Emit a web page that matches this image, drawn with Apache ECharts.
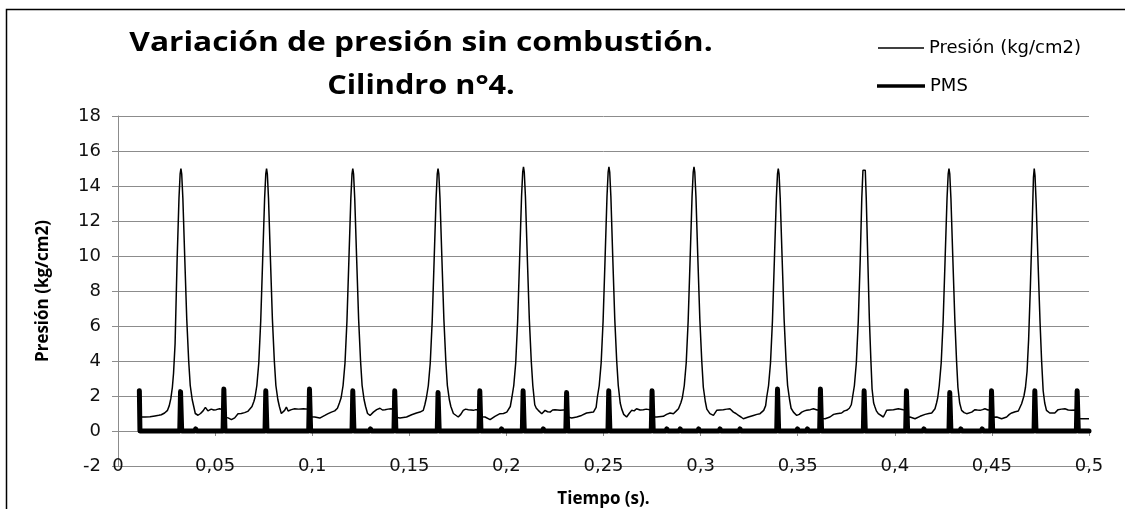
<!DOCTYPE html>
<html>
<head>
<meta charset="utf-8">
<script src="https://cdn.jsdelivr.net/npm/echarts@6.0.0/dist/echarts.min.js"></script>
<style>
  html, body { margin: 0; padding: 0; background: #fff; }
  #chart { width: 1125px; height: 509px; }
</style>
</head>
<body>
<div id="chart"></div>
<script>
// Tiempo (s) / presión (kg/cm2)
const presion = [
  [0.0115, 0.80], [0.0140, 0.80], [0.0165, 0.81], [0.0190, 0.86], [0.0210, 0.90], [0.0223, 0.93], [0.0240, 1.03], [0.0255, 1.18], [0.0264, 1.45], [0.0272, 1.85], [0.0280, 2.5], [0.0286, 3.3], [0.0294, 5.0], [0.0304, 9.6], [0.0314, 13.3], [0.0320, 14.7], [0.0324, 15.0], [0.0328, 14.7], [0.0334, 13.3], [0.0344, 9.8], [0.0354, 6.4], [0.0364, 4.0], [0.0372, 2.6], [0.0382, 1.8], [0.0390, 1.4],
  [0.0398, 1.0], [0.0412, 0.9], [0.0425, 1.0], [0.0438, 1.15], [0.0450, 1.35], [0.0463, 1.15], [0.0480, 1.25], [0.0493, 1.2], [0.0506, 1.22], [0.0523, 1.27], [0.0538, 1.22],
  [0.0548, 0.78], [0.0567, 0.75], [0.0584, 0.65], [0.0601, 0.75], [0.0618, 0.99], [0.0635, 1.0], [0.0652, 1.05], [0.0668, 1.12], [0.0678, 1.2], [0.0690, 1.4], [0.0700, 1.7],
  [0.0705, 1.9], [0.0715, 2.6], [0.0725, 3.9], [0.0735, 6.3], [0.0745, 9.8], [0.0755, 13.3], [0.0761, 14.7], [0.0765, 15.0], [0.0769, 14.7], [0.0775, 13.3], [0.0785, 9.8], [0.0795, 6.4], [0.0805, 4.0], [0.0813, 2.6], [0.0823, 1.8], [0.0831, 1.4],
  [0.0841, 1.0], [0.0849, 0.95], [0.0858, 1.18], [0.0867, 1.37], [0.0876, 1.14], [0.0884, 1.25], [0.0893, 1.22], [0.0910, 1.27], [0.0930, 1.25], [0.0955, 1.27], [0.0980, 1.25],
  [0.0992, 0.82], [0.1013, 0.80], [0.1039, 0.74], [0.1065, 0.89], [0.1082, 0.99], [0.1099, 1.08], [0.1116, 1.15], [0.1130, 1.3], [0.1140, 1.6],
  [0.1149, 1.9], [0.1159, 2.6], [0.1169, 3.9], [0.1179, 6.3], [0.1189, 9.8], [0.1199, 13.3], [0.1205, 14.7], [0.1209, 15.0], [0.1213, 14.7], [0.1219, 13.3], [0.1229, 9.8], [0.1239, 6.4], [0.1249, 4.0], [0.1257, 2.6], [0.1267, 1.8], [0.1275, 1.4],
  [0.1285, 1.0], [0.1298, 0.89], [0.1315, 1.08], [0.1332, 1.22], [0.1349, 1.3], [0.1362, 1.2], [0.1375, 1.22], [0.1390, 1.25], [0.1405, 1.27], [0.1420, 1.25],
  [0.1430, 0.78], [0.1452, 0.74], [0.1486, 0.80], [0.1512, 0.93], [0.1537, 1.03], [0.1555, 1.08], [0.1572, 1.18], [0.1580, 1.5],
  [0.1588, 1.9], [0.1598, 2.6], [0.1608, 3.9], [0.1618, 6.3], [0.1628, 9.8], [0.1638, 13.3], [0.1644, 14.7], [0.1648, 15.0], [0.1652, 14.7], [0.1658, 13.3], [0.1668, 9.8], [0.1678, 6.4], [0.1688, 4.0], [0.1696, 2.6], [0.1706, 1.8], [0.1714, 1.4],
  [0.1727, 1.0], [0.1752, 0.80], [0.1765, 0.95], [0.1778, 1.18], [0.1790, 1.25], [0.1804, 1.22], [0.1818, 1.2], [0.1830, 1.18], [0.1843, 1.22], [0.1858, 1.2],
  [0.1868, 0.82], [0.1890, 0.80], [0.1916, 0.65], [0.1941, 0.84], [0.1967, 0.99], [0.1985, 1.0], [0.2002, 1.08], [0.2020, 1.4],
  [0.2028, 1.9], [0.2038, 2.6], [0.2048, 3.9], [0.2058, 6.3], [0.2068, 9.8], [0.2078, 13.4], [0.2084, 14.8], [0.2088, 15.1], [0.2092, 14.8], [0.2098, 13.4], [0.2108, 9.8], [0.2118, 6.4], [0.2128, 4.0], [0.2136, 2.6], [0.2146, 1.5], [0.2154, 1.3],
  [0.2164, 1.18], [0.2182, 0.99], [0.2199, 1.18], [0.2212, 1.1], [0.2225, 1.08], [0.2238, 1.2], [0.2250, 1.22], [0.2276, 1.18], [0.2295, 1.2], [0.2306, 1.2],
  [0.2316, 0.8], [0.2336, 0.74], [0.2362, 0.80], [0.2387, 0.89], [0.2413, 1.03], [0.2448, 1.08], [0.2462, 1.35],
  [0.2468, 1.9], [0.2478, 2.6], [0.2488, 3.9], [0.2498, 6.3], [0.2508, 9.8], [0.2518, 13.4], [0.2524, 14.8], [0.2528, 15.1], [0.2532, 14.8], [0.2538, 13.4], [0.2548, 9.8], [0.2558, 6.4], [0.2568, 4.0], [0.2576, 2.6], [0.2586, 1.6], [0.2594, 1.25],
  [0.2604, 0.95], [0.2619, 0.80], [0.2632, 1.0], [0.2645, 1.18], [0.2658, 1.15], [0.2670, 1.27], [0.2688, 1.2], [0.2705, 1.22], [0.2720, 1.25], [0.2745, 1.2],
  [0.2755, 0.8], [0.2774, 0.80], [0.2808, 0.84], [0.2825, 0.95], [0.2843, 1.03], [0.2860, 0.99], [0.2875, 1.15], [0.2886, 1.27], [0.2898, 1.6],
  [0.2906, 1.9], [0.2916, 2.6], [0.2926, 3.9], [0.2936, 6.3], [0.2946, 9.8], [0.2956, 13.4], [0.2962, 14.8], [0.2966, 15.1], [0.2970, 14.8], [0.2976, 13.4], [0.2986, 9.8], [0.2996, 6.4], [0.3006, 4.0], [0.3014, 2.5], [0.3024, 1.7], [0.3032, 1.25],
  [0.3048, 0.99], [0.3066, 0.89], [0.3083, 1.18], [0.3100, 1.2], [0.3117, 1.22], [0.3135, 1.25], [0.3151, 1.27], [0.3169, 1.08], [0.3182, 1.0], [0.3195, 0.89], [0.3208, 0.8], [0.3220, 0.70], [0.3246, 0.80], [0.3272, 0.89], [0.3290, 0.95], [0.3306, 0.99], [0.3325, 1.18], [0.3335, 1.45],
  [0.3340, 1.9], [0.3350, 2.6], [0.3360, 3.9], [0.3370, 6.3], [0.3380, 9.8], [0.3390, 13.3], [0.3396, 14.7], [0.3400, 15.0], [0.3404, 14.7], [0.3410, 13.3], [0.3420, 9.8], [0.3430, 6.4], [0.3440, 4.0], [0.3448, 2.6], [0.3458, 1.8], [0.3466, 1.3],
  [0.3478, 1.08], [0.3495, 0.89], [0.3508, 0.95], [0.3521, 1.08], [0.3535, 1.15], [0.3546, 1.18], [0.3565, 1.22], [0.3581, 1.27], [0.3600, 1.2], [0.3613, 1.22],
  [0.3623, 0.72], [0.3641, 0.70], [0.3666, 0.80], [0.3685, 0.95], [0.3700, 0.99], [0.3726, 1.03], [0.3740, 1.15], [0.3752, 1.18], [0.3766, 1.3], [0.3776, 1.5],
  [0.3782, 1.9], [0.3792, 2.6], [0.3802, 3.9], [0.3812, 6.3], [0.3822, 9.8], [0.3830, 13.3], [0.3836, 14.9], [0.3839, 15.0], [0.3842, 14.85], [0.3845, 15.0], [0.3848, 14.9], [0.3853, 13.3], [0.3861, 9.8], [0.3869, 6.4], [0.3877, 4.0], [0.3883, 2.4], [0.3891, 1.6], [0.3898, 1.37],
  [0.3905, 1.15], [0.3915, 0.99], [0.3941, 0.80], [0.3950, 1.0], [0.3958, 1.18], [0.3975, 1.2], [0.3993, 1.22], [0.4018, 1.27], [0.4044, 1.22], [0.4056, 1.2],
  [0.4066, 0.78], [0.4078, 0.80], [0.4104, 0.70], [0.4130, 0.84], [0.4156, 0.95], [0.4175, 1.0], [0.4190, 1.03], [0.4207, 1.27], [0.4215, 1.6],
  [0.4221, 1.9], [0.4229, 2.6], [0.4239, 3.9], [0.4249, 6.3], [0.4259, 9.8], [0.4269, 13.3], [0.4275, 14.7], [0.4279, 15.0], [0.4283, 14.7], [0.4289, 13.3], [0.4299, 9.8], [0.4309, 6.4], [0.4318, 4.0], [0.4325, 2.5], [0.4334, 1.6],
  [0.4344, 1.18], [0.4357, 1.05], [0.4370, 0.99], [0.4396, 1.08], [0.4413, 1.22], [0.4425, 1.2], [0.4439, 1.18], [0.4452, 1.22], [0.4464, 1.27], [0.4480, 1.2], [0.4494, 1.22],
  [0.4504, 0.78], [0.4525, 0.80], [0.4550, 0.70], [0.4576, 0.80], [0.4590, 0.95], [0.4602, 1.03], [0.4620, 1.1], [0.4636, 1.14], [0.4653, 1.56], [0.4665, 2.0], [0.4673, 2.5],
  [0.4681, 3.4], [0.4689, 5.2], [0.4698, 8.2], [0.4708, 12.0], [0.4714, 14.5], [0.4718, 15.0], [0.4722, 14.6], [0.4728, 13.0], [0.4738, 9.5], [0.4748, 6.2], [0.4756, 4.0], [0.4764, 2.3], [0.4772, 1.6],
  [0.4781, 1.18], [0.4798, 1.03], [0.4824, 1.03], [0.4841, 1.22], [0.4858, 1.25], [0.4876, 1.27], [0.4893, 1.2], [0.4910, 1.18], [0.4935, 1.2],
  [0.4945, 0.72], [0.4962, 0.70], [0.4980, 0.70], [0.5000, 0.70]
]

// señal PMS (pulsos)
const pms = [
  [0.0110, 2.3], [0.0113, 0],
  [0.0318, 0], [0.0322, 2.25], [0.0324, 2.25], [0.0328, 0],
  [0.0395, 0], [0.0400, 0.12], [0.0405, 0],
  [0.0541, 0], [0.0545, 2.4], [0.0547, 2.4], [0.0551, 0],
  [0.0757, 0], [0.0761, 2.3], [0.0763, 2.3], [0.0767, 0],
  [0.0982, 0], [0.0986, 2.4], [0.0988, 2.4], [0.0992, 0],
  [0.1205, 0], [0.1209, 2.3], [0.1211, 2.3], [0.1215, 0],
  [0.1295, 0], [0.1300, 0.12], [0.1305, 0],
  [0.1421, 0], [0.1425, 2.3], [0.1427, 2.3], [0.1431, 0],
  [0.1644, 0], [0.1648, 2.2], [0.1650, 2.2], [0.1654, 0],
  [0.1859, 0], [0.1863, 2.3], [0.1865, 2.3], [0.1869, 0],
  [0.1970, 0], [0.1975, 0.12], [0.1980, 0],
  [0.2082, 0], [0.2086, 2.3], [0.2088, 2.3], [0.2092, 0],
  [0.2185, 0], [0.2190, 0.12], [0.2195, 0],
  [0.2306, 0], [0.2310, 2.2], [0.2312, 2.2], [0.2316, 0],
  [0.2523, 0], [0.2527, 2.3], [0.2529, 2.3], [0.2533, 0],
  [0.2746, 0], [0.2750, 2.3], [0.2752, 2.3], [0.2756, 0],
  [0.2821, 0], [0.2826, 0.12], [0.2831, 0],
  [0.2890, 0], [0.2895, 0.12], [0.2900, 0],
  [0.2985, 0], [0.2990, 0.12], [0.2995, 0],
  [0.3095, 0], [0.3100, 0.12], [0.3105, 0],
  [0.3198, 0], [0.3203, 0.12], [0.3208, 0],
  [0.3392, 0], [0.3396, 2.4], [0.3398, 2.4], [0.3402, 0],
  [0.3494, 0], [0.3499, 0.12], [0.3504, 0],
  [0.3545, 0], [0.3550, 0.12], [0.3555, 0],
  [0.3613, 0], [0.3617, 2.4], [0.3619, 2.4], [0.3623, 0],
  [0.3838, 0], [0.3842, 2.3], [0.3844, 2.3], [0.3848, 0],
  [0.4056, 0], [0.4060, 2.3], [0.4062, 2.3], [0.4066, 0],
  [0.4145, 0], [0.4150, 0.12], [0.4155, 0],
  [0.4279, 0], [0.4283, 2.2], [0.4285, 2.2], [0.4289, 0],
  [0.4335, 0], [0.4340, 0.12], [0.4345, 0],
  [0.4445, 0], [0.4450, 0.12], [0.4455, 0],
  [0.4494, 0], [0.4498, 2.3], [0.4500, 2.3], [0.4504, 0],
  [0.4717, 0], [0.4721, 2.3], [0.4723, 2.3], [0.4727, 0],
  [0.4935, 0], [0.4939, 2.3], [0.4941, 2.3], [0.4945, 0],
  [0.5000, 0]
]

const titulo = ['Variación de presión sin combustión.', 'Cilindro n°4.']
const serieNombres = ['Presión (kg/cm2)', 'PMS']

const grey = '#8c8c8c'

function drawChart () {
  const dom = echarts.init(document.getElementById('chart'))
  const titleStyle = function (text) {
    return {
      text: text,
      fill: '#000',
      font: 'bold 26px "Open Sans"',
      align: 'center',
      verticalAlign: 'middle',
      textAlign: 'center',
      textVerticalAlign: 'middle'
    }
  }
  const option = {
    animation: false,
    backgroundColor: '#fff',
    graphic: [
      {
        type: 'rect',
        shape: { x: 6.5, y: 9.5, width: 1130, height: 520 },
        style: { fill: 'none', stroke: '#000', lineWidth: 1.5 },
        silent: true
      },
      { type: 'text', x: 421, y: 44, scaleX: 1.22, style: titleStyle(titulo[0]) },
      { type: 'text', x: 421, y: 87, scaleX: 1.18, style: titleStyle(titulo[1]) }
    ],
    legend: [
      {
        data: [serieNombres[0]],
        left: 873,
        top: 33,
        icon: 'rect',
        itemWidth: 46,
        itemHeight: 1.4,
        textStyle: { fontFamily: 'DejaVu Sans', fontSize: 18, color: '#000', lineHeight: 20 }
      },
      {
        data: [serieNombres[1]],
        left: 872,
        top: 71,
        icon: 'rect',
        itemWidth: 48,
        itemHeight: 3.4,
        textStyle: { fontFamily: 'DejaVu Sans', fontSize: 18, color: '#000', lineHeight: 20 }
      }
    ],
    grid: {
      left: 118,
      right: 36,
      top: 116,
      bottom: 43,
      outerBoundsMode: 'none'
    },
    xAxis: [
      {
        type: 'value',
        min: 0,
        max: 0.5,
        interval: 0.05,
        position: 'bottom',
        axisLine: { show: false, onZero: false },
        axisTick: { show: false },
        splitLine: { show: false },
        axisLabel: {
          margin: 0,
          verticalAlign: 'middle',
          fontFamily: 'DejaVu Sans',
          fontSize: 18,
          color: '#111',
          showMinLabel: true,
          showMaxLabel: true,
          formatter: function (v) {
            return String(+v.toFixed(2)).replace('.', ',')
          }
        },
        name: 'Tiempo (s).',
        nameLocation: 'middle',
        nameGap: 25,
        nameTextStyle: { fontFamily: 'Open Sans', fontWeight: 'bold', fontSize: 17, color: '#000' }
      },
      {
        type: 'value',
        min: 0,
        max: 0.5,
        interval: 0.05,
        position: 'top',
        axisLine: { show: true, onZero: true, lineStyle: { color: grey, width: 1 } },
        axisTick: { show: true, inside: true, length: 5, lineStyle: { color: grey } },
        axisLabel: { show: false },
        splitLine: { show: false }
      }
    ],
    yAxis: {
      type: 'value',
      min: -2,
      max: 18,
      interval: 2,
      axisLine: { show: true, lineStyle: { color: grey, width: 1 } },
      axisTick: { show: true, length: 6, lineStyle: { color: grey } },
      splitLine: { show: true, lineStyle: { color: grey, width: 1 } },
      axisLabel: { margin: 17, fontFamily: 'DejaVu Sans', fontSize: 18, color: '#111' },
      name: 'Presión (kg/cm2)',
      nameLocation: 'middle',
      nameGap: 66,
      nameTextStyle: { fontFamily: 'Open Sans', fontWeight: 'bold', fontSize: 17, color: '#000' }
    },
    series: [
      {
        name: serieNombres[0],
        type: 'line',
        xAxisIndex: 0,
        data: presion,
        symbol: 'none',
        lineStyle: { color: '#000', width: 1.5 },
        itemStyle: { color: '#000' }
      },
      {
        name: serieNombres[1],
        type: 'line',
        xAxisIndex: 0,
        data: pms,
        symbol: 'none',
        lineStyle: { color: '#000', width: 5, join: 'round', cap: 'round' },
        itemStyle: { color: '#000' }
      }
    ]
  }
  dom.setOption(option)
}

drawChart()
</script>
</body>
</html>
